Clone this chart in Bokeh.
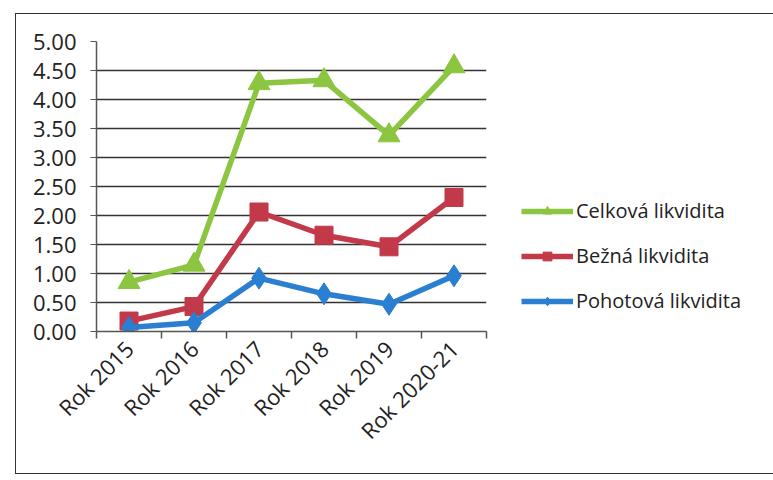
import math
from bokeh.plotting import figure
from bokeh.models import (Range1d, FixedTicker, LinearAxis, Legend, LegendItem,
                          ColumnDataSource, NumeralTickFormatter)
from bokeh.embed import file_html
from bokeh.resources import INLINE

categories = ["Rok 2015", "Rok 2016", "Rok 2017", "Rok 2018", "Rok 2019", "Rok 2020-21"]
celkova = [0.85, 1.15, 4.28, 4.33, 3.38, 4.57]
bezna = [0.18, 0.43, 2.06, 1.66, 1.46, 2.31]
pohotova = [0.07, 0.15, 0.92, 0.65, 0.47, 0.96]
y_ticks = [0, 0.5, 1, 1.5, 2, 2.5, 3, 3.5, 4, 4.5, 5]

FONT = "Open Sans"
xs = [i + 0.5 for i in range(len(categories))]
seps = list(range(len(categories) + 1))

p = figure(frame_width=390, frame_height=290, output_backend="svg", toolbar_location=None,
           x_range=Range1d(0, len(categories)), y_range=Range1d(0, 5),
           min_border_left=80, min_border_top=27, min_border_right=280, min_border_bottom=142,
           x_axis_type=None)
p.outline_line_color = None
p.styles = {"border": "1.5px solid #333", "border-right": "none", "box-sizing": "border-box",
            "margin-left": "15px", "margin-top": "13px"}

# y axis
p.yaxis.ticker = FixedTicker(ticks=y_ticks)
p.yaxis.formatter = NumeralTickFormatter(format="0.00")
p.yaxis.major_label_text_font = FONT
p.yaxis.major_label_text_font_size = "22px"
p.yaxis.major_label_text_color = "#222"
p.yaxis.axis_line_color = "#555"
p.yaxis.axis_line_width = 1.5
p.yaxis.major_tick_line_color = "#555"
p.yaxis.major_tick_in = 0
p.yaxis.major_tick_out = 6
p.yaxis.minor_tick_line_color = None
p.yaxis.major_label_standoff = 14
p.ygrid.ticker = FixedTicker(ticks=y_ticks)
p.ygrid.grid_line_color = "#333"
p.ygrid.grid_line_width = 1.5
p.xgrid.grid_line_color = None

# x axis: separators
sep_axis = LinearAxis(ticker=FixedTicker(ticks=seps),
                      major_label_overrides={s: "" for s in seps})
sep_axis.major_label_standoff = 0
sep_axis.axis_line_color = "#555"
sep_axis.axis_line_width = 1.5
sep_axis.major_tick_line_color = "#555"
sep_axis.major_tick_line_width = 1.5
sep_axis.major_tick_in = 0
sep_axis.major_tick_out = 7
sep_axis.minor_tick_line_color = None
p.add_layout(sep_axis, "below")

lab_axis = LinearAxis(ticker=FixedTicker(ticks=xs),
                      major_label_overrides={x: c for x, c in zip(xs, categories)})
lab_axis.axis_line_color = None
lab_axis.major_tick_line_color = None
lab_axis.minor_tick_line_color = None
lab_axis.major_label_orientation = math.pi / 4
lab_axis.major_label_text_font = FONT
lab_axis.major_label_text_font_size = "22px"
lab_axis.major_label_text_color = "#222"
lab_axis.major_label_standoff = 0
p.add_layout(lab_axis, "below")

GREEN = "#8cc540"
RED = "#c23a4a"
BLUE = "#2a7fd0"

src = ColumnDataSource(dict(x=xs, c=celkova, b=bezna, ph=pohotova))

r_c1 = p.line("x", "c", source=src, line_color=GREEN, line_width=5.5)
r_c2 = p.scatter("x", "c", source=src, marker="triangle", size=22, fill_color=GREEN, line_color=GREEN)
r_b1 = p.line("x", "b", source=src, line_color=RED, line_width=5.5)
r_b2 = p.scatter("x", "b", source=src, marker="square", size=18, fill_color=RED, line_color=RED)
r_p1 = p.line("x", "ph", source=src, line_color=BLUE, line_width=5.5)
r_p2 = p.scatter("x", "ph", source=src, marker="diamond", size=22, fill_color=BLUE, line_color=BLUE)

legend = Legend(items=[
    LegendItem(label="Celková likvidita", renderers=[r_c1, r_c2]),
    LegendItem(label="Bežná likvidita", renderers=[r_b1, r_b2]),
    LegendItem(label="Pohotová likvidita", renderers=[r_p1, r_p2]),
], location=(35, 17))
legend.border_line_color = None
legend.background_fill_alpha = 0
legend.label_text_font = FONT
legend.label_text_font_size = "20px"
legend.label_text_color = "#222"
legend.glyph_width = 52
legend.glyph_height = 22
legend.label_standoff = 3
legend.spacing = 18
legend.padding = 0
p.add_layout(legend, "right")

open("out.html", "w").write(file_html(p, INLINE))
